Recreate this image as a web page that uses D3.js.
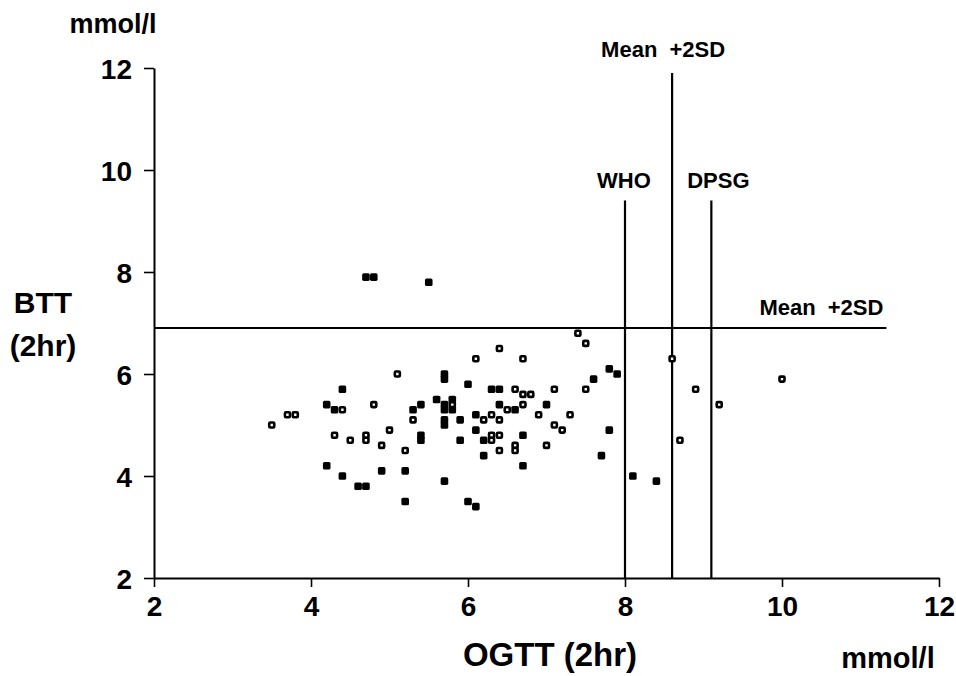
<!DOCTYPE html>
<html>
<head>
<meta charset="utf-8">
<script src="https://cdn.jsdelivr.net/npm/d3@7"></script>
<style>
  html, body { margin: 0; padding: 0; background: #fff; }
  svg { display: block; }
  text { font-family: "Liberation Sans", Arial, Helvetica, sans-serif; font-weight: bold; fill: #000; }
</style>
</head>
<body>
<svg id="chart" width="956" height="676"></svg>
<script>
// ---- Data ----
const xTicks = [2, 4, 6, 8, 10, 12];
const yTicks = [2, 4, 6, 8, 10, 12];

// filled squares
const filledOGTT = [4.4, 4.2, 4.3, 4.2, 4.4, 4.9, 5.2, 4.6, 4.7, 5.2,
  4.7, 4.8, 5.5,
  5.7, 5.7, 6.0, 7.6, 6.3, 6.4, 7.8, 7.9,
  5.6, 5.7, 5.7, 5.8, 5.8, 5.3, 5.4,
  5.4, 5.4, 5.7, 5.7, 5.9, 6.1, 6.4, 6.6, 7.0,
  6.1, 5.9, 6.2, 6.7, 6.2, 6.7, 7.7, 7.8,
  5.7, 6.0, 6.1, 8.1, 8.4];
const filledBTT = [5.7, 5.4, 5.3, 4.2, 4.0, 4.1, 4.1, 3.8, 3.8, 3.5,
  7.9, 7.9, 7.8,
  6.0, 5.9, 5.8, 5.9, 5.7, 5.7, 6.1, 6.0,
  5.5, 5.4, 5.3, 5.5, 5.3, 5.3, 5.4,
  4.8, 4.7, 5.1, 5.0, 5.1, 5.2, 5.4, 5.3, 5.4,
  4.9, 4.7, 4.7, 4.8, 4.4, 4.2, 4.4, 4.9,
  3.9, 3.5, 3.4, 4.0, 3.9];

// open squares
const openOGTT = [5.1, 4.4, 4.8, 3.7, 3.8, 3.5, 5.3, 4.3, 4.5, 4.7, 4.7, 5.0, 4.9, 5.2,
  7.4, 7.5, 6.4, 6.1, 6.7, 6.6, 6.7, 6.8, 7.1, 7.5, 5.8,
  6.3, 6.2, 6.4, 6.7, 6.5, 6.9, 7.3, 7.1, 7.2,
  6.3, 6.3, 6.4, 6.6, 6.6, 6.4, 7.0,
  8.6, 8.9, 8.7, 9.2, 10.0];
const openBTT = [6.0, 5.3, 5.4, 5.2, 5.2, 5.0, 5.1, 4.8, 4.7, 4.8, 4.7, 4.9, 4.6, 4.5,
  6.8, 6.6, 6.5, 6.3, 6.3, 5.7, 5.6, 5.6, 5.7, 5.7, 5.4,
  5.2, 5.1, 5.1, 5.4, 5.3, 5.2, 5.2, 5.0, 4.9,
  4.8, 4.7, 4.8, 4.6, 4.5, 4.5, 4.6,
  6.3, 5.7, 4.7, 5.4, 5.9];

// reference lines
const vLineLabels = ["WHO", "Mean +2SD", "DPSG"];
const vLineX = [8.0, 8.6, 9.1];
const vLineTop = [9.4, 11.9, 9.4];
const hLineLabel = "Mean +2SD";
const hLineY = 6.9;
const hLineEnd = 11.33;

// ---- Chart ----
const svg = d3.select("#chart");
svg.append("rect").attr("width", 956).attr("height", 676).attr("fill", "#fff");

const x = d3.scaleLinear().domain([2, 12]).range([154, 939]);
const y = d3.scaleLinear().domain([2, 12]).range([578, 68]);

// axes
const xAxis = d3.axisBottom(x).tickValues(xTicks).tickSize(9).tickPadding(8).tickSizeOuter(0);
const gx = svg.append("g").attr("transform", `translate(0,${y(2)})`).call(xAxis);
gx.select(".domain").attr("stroke", "#000").attr("stroke-width", 2);
gx.selectAll(".tick line").attr("stroke", "#000").attr("stroke-width", 1.6);
gx.selectAll(".tick text").attr("font-size", 28).attr("dy", "0.74em")
  .attr("font-family", "Liberation Sans, Arial, sans-serif").attr("font-weight", "bold");

const yAxis = d3.axisLeft(y).tickValues(yTicks).tickSize(10).tickPadding(12).tickSizeOuter(0);
const gy = svg.append("g").attr("transform", `translate(${x(2)},0)`).call(yAxis);
gy.select(".domain").attr("stroke", "#000").attr("stroke-width", 2);
gy.selectAll(".tick line").attr("stroke", "#000").attr("stroke-width", 1.6);
gy.selectAll(".tick text").attr("font-size", 28).attr("dy", "0.36em")
  .attr("font-family", "Liberation Sans, Arial, sans-serif").attr("font-weight", "bold");

// reference lines
vLineX.forEach((v, i) => {
  svg.append("line")
    .attr("x1", x(v)).attr("x2", x(v))
    .attr("y1", y(vLineTop[i])).attr("y2", y(2))
    .attr("stroke", "#000").attr("stroke-width", 2.2);
});
svg.append("line")
  .attr("x1", x(2)).attr("x2", x(hLineEnd))
  .attr("y1", y(hLineY)).attr("y2", y(hLineY))
  .attr("stroke", "#000").attr("stroke-width", 2);

// labels for reference lines
svg.append("text").attr("x", x(vLineX[0]) - 1).attr("y", 188)
  .attr("text-anchor", "middle").attr("font-size", 22).text(vLineLabels[0]);
svg.append("text").attr("x", x(vLineX[1]) - 9).attr("y", 57)
  .attr("text-anchor", "middle").attr("font-size", 22).attr("word-spacing", 6).text(vLineLabels[1]);
svg.append("text").attr("x", x(vLineX[2]) + 7).attr("y", 188)
  .attr("text-anchor", "middle").attr("font-size", 22).text(vLineLabels[2]);
svg.append("text").attr("x", x(hLineEnd) - 3).attr("y", 315)
  .attr("text-anchor", "end").attr("font-size", 22).attr("word-spacing", 6).text(hLineLabel);

// points
const filled = filledOGTT.map((v, i) => [v, filledBTT[i]]);
const open = openOGTT.map((v, i) => [v, openBTT[i]]);

svg.append("g").selectAll("rect").data(filled).join("rect")
  .attr("x", d => x(d[0]) - 3.8).attr("y", d => y(d[1]) - 3.8)
  .attr("width", 7.6).attr("height", 7.6).attr("rx", 1.6)
  .attr("fill", "#000");

svg.append("g").selectAll("rect").data(open).join("rect")
  .attr("x", d => x(d[0]) - 2.5).attr("y", d => y(d[1]) - 2.5)
  .attr("width", 5).attr("height", 5).attr("rx", 1)
  .attr("fill", "#fff").attr("stroke", "#000").attr("stroke-width", 2.6);

// axis titles
svg.append("text").attr("x", 113).attr("y", 33).attr("text-anchor", "middle")
  .attr("font-size", 27).text("mmol/l");
svg.append("text").attr("x", 43).attr("y", 313).attr("text-anchor", "middle")
  .attr("font-size", 30).text("BTT");
svg.append("text").attr("x", 43).attr("y", 356).attr("text-anchor", "middle")
  .attr("font-size", 30).text("(2hr)");
svg.append("text").attr("x", 550).attr("y", 666).attr("text-anchor", "middle")
  .attr("font-size", 33).text("OGTT (2hr)");
svg.append("text").attr("x", 888).attr("y", 668).attr("text-anchor", "middle")
  .attr("font-size", 29).text("mmol/l");
</script>
</body>
</html>
